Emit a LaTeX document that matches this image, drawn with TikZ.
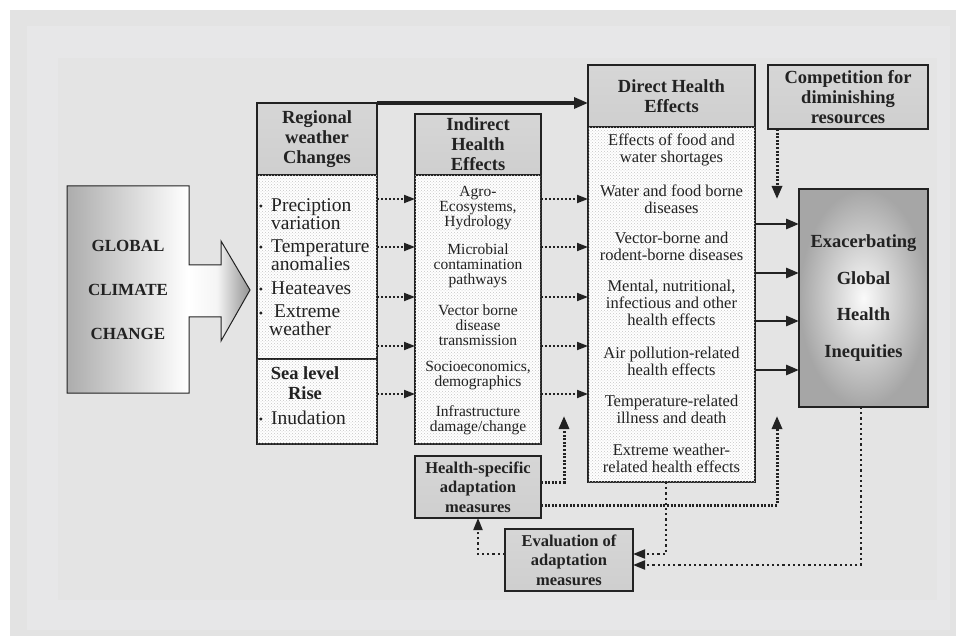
\documentclass[tikz,border=0pt]{standalone}
\usepackage{fontspec}
\setmainfont{Liberation Serif}
\usepackage{tikz}
\usetikzlibrary{arrows.meta}
\usetikzlibrary{patterns}
\usetikzlibrary{positioning}
\usepackage{xcolor}

\definecolor{bgout}{HTML}{E3E3E3}
\definecolor{bgmid}{HTML}{E7E7E8}
\definecolor{bgin}{HTML}{E4E4E4}
\definecolor{ink}{HTML}{222222}

\pgfdeclarehorizontalshading{gccshade}{100bp}{color(0bp)=(gray!65); color(25bp)=(gray!65); color(58bp)=(white); color(66bp)=(white!92!gray); color(75bp)=(gray!85); color(100bp)=(gray!85)}

\tikzset{
  box/.style={draw=ink,line width=1.2pt,inner sep=0pt,outer sep=0pt,align=center,text=ink},
  header/.style={box,top color=gray!32,middle color=white,bottom color=gray!38,font=\fontsize{18.5}{20}\selectfont\bfseries},
  body/.style={box,fill=white,postaction={pattern=crosshatch dots,pattern color=gray!45}},
  dirtxt/.style={align=center,text=ink,inner sep=0pt,font=\fontsize{16.5}{17}\selectfont},
  indtxt/.style={align=center,text=ink,inner sep=0pt,font=\fontsize{15.5}{15}\selectfont},
  regtxt/.style={align=left,text=ink,inner sep=0pt,anchor=west,font=\fontsize{19.5}{18.5}\selectfont},
  bull/.style={text=ink,inner sep=0pt,font=\fontsize{12}{12}\selectfont},
  dotarrow/.style={draw=ink,line width=1.8pt,dash pattern=on 2pt off 2pt,-{Triangle[length=11pt,width=8pt]}},
  thickdot/.style={draw=ink,line width=3pt,dash pattern=on 2pt off 1.6pt,-{Triangle[length=13pt,width=10pt]}},
  thindot/.style={draw=ink,line width=2pt,dash pattern=on 2.2pt off 3pt,-{Triangle[length=12pt,width=9pt]}},
  solidarrow/.style={draw=ink,line width=2.8pt,-{Triangle[length=13pt,width=10pt]}}
}

\begin{document}
\begin{tikzpicture}[x=1pt,y=-1pt]
  \useasboundingbox (0,0) rectangle (956,636);
  \fill[bgout] (10,10) rectangle (956,636);
  \fill[bgmid] (27,26) rectangle (950,630);
  \fill[bgin] (58,58) rectangle (937,600);

  % global climate change
  \path[draw=ink,line width=1pt,shading=gccshade] (67,186) -- (189,186) -- (189,265) -- (221,265) -- (221,241) -- (250,290) -- (221,341) -- (221,317) -- (189,317) -- (189,393) -- (67,393) -- cycle;
  \node[align=center,text=ink,font=\fontsize{17}{44}\selectfont\bfseries] (gcc) at (128,290) {GLOBAL\\CLIMATE\\CHANGE};

  % regional weather changes
  \node[header,minimum width=120pt,minimum height=72pt] (rh) at (317,139) {Regional\\weather\\Changes};
  \node[body,minimum width=120pt,minimum height=184pt,below=0pt of rh] (rb) {};
  \node[body,minimum width=120pt,minimum height=85pt,below=0pt of rb] (sl) {};

  \node[regtxt] (r1) at (271,214) {Preciption\\variation};
  \node[regtxt] (r2) at (271,255) {Temperature\\anomalies};
  \node[regtxt] (r3) at (271,288) {Heateaves};
  \node[regtxt] (r4) at (269,320) {\hspace*{5pt}Extreme\\weather};
  \node[align=center,text=ink,inner sep=0pt,font=\fontsize{18.5}{20}\selectfont\bfseries] (slr) at (305,383) {Sea level\\Rise};
  \node[regtxt] (r5) at (271,418) {Inudation};
  \foreach \y in {208,249,291,315,421}
    \node[bull] at (261,\y) {\textbullet};

  % indirect health effects
  \node[header,minimum width=126pt,minimum height=61pt] (ih) at (478,144.5) {Indirect\\Health\\Effects};
  \node[body,minimum width=126pt,minimum height=269pt,below=0pt of ih] (ib) {};

  \foreach \y/\txt [count=\i] in {208/{Agro-\\Ecosystems,\\Hydrology},266/{Microbial\\contamination\\pathways},325/{Vector borne\\disease\\transmission},376/{Socioeconomics,\\demographics},420/{Infrastructure\\damage/change}}
    \node[indtxt] (i-\i) at (478,\y) {\txt};

  % direct health effects
  \node[header,minimum width=167pt,minimum height=62pt] (dh) at (671.5,96) {Direct Health\\Effects};
  \node[body,minimum width=167pt,minimum height=355pt,below=0pt of dh] (db) {};

  \foreach \y/\txt [count=\i] in {150/{Effects of food and\\water shortages},199/{Water and food borne\\diseases},246/{Vector-borne and\\rodent-borne diseases},303/{Mental, nutritional,\\infectious and other\\health effects},361/{Air pollution-related\\health effects},409/{Temperature-related\\illness and death},458/{Extreme weather-\\related health effects}}
    \node[dirtxt] (d-\i) at (671.5,\y) {\txt};

  % competition, inequities, adaptation
  \node[header,minimum width=160pt,minimum height=64pt] (cf) at (848,97) {Competition for\\diminishing\\resources};
  \node[box,inner color=gray!4,outer color=gray!70,minimum width=129pt,minimum height=218pt,font=\fontsize{18.5}{36.5}\selectfont\bfseries] (ex) at (863.5,298) {Exacerbating\\Global\\Health\\Inequities};
  \node[header,minimum width=126pt,minimum height=62pt,font=\fontsize{16.5}{19.5}\selectfont\bfseries] (hs) at (478,487) {Health-specific\\adaptation\\measures};
  \node[header,minimum width=128pt,minimum height=62pt,font=\fontsize{16.5}{19.5}\selectfont\bfseries] (ev) at (569,560) {Evaluation of\\adaptation\\measures};

  \coordinate (cfdown) at (777,199);
  \coordinate (hsup1) at (564,416);
  \coordinate (hsup2) at (777,416);

  % connectors
  \draw[ink,line width=3.2pt,-{Triangle[length=14pt,width=11pt]}] (rh.north east) -- (dh.west |- rh.north east);

  \foreach \y in {199,247,297,346}
    \draw[dotarrow] (rb.east |- 0,\y) -- (ib.west |- 0,\y);
  \draw[dotarrow] (sl.east |- 0,394) -- (ib.west |- 0,394);

  \foreach \y in {199,247,297,346,394}
    \draw[dotarrow] (ib.east |- 0,\y) -- (db.west |- 0,\y);

  \foreach \y in {224,273,321,370}
    \draw[solidarrow] (db.east |- 0,\y) -- (ex.west |- 0,\y);

  \draw[thickdot] (cf.south -| cfdown) -- (cfdown);
  \draw[thickdot] ([yshift=5pt]hs.east) -| (hsup1);
  \draw[thickdot] ([yshift=-18pt]hs.east) -| (hsup2);

  \draw[thindot] ([xshift=-6pt]db.south) |- ([yshift=6pt]ev.east);
  \draw[thindot] ([xshift=-3pt]ex.south) |- ([yshift=-5pt]ev.east);
  \draw[thindot] ([yshift=6pt]ev.west) -| (hs.south);

\end{tikzpicture}
\end{document}
